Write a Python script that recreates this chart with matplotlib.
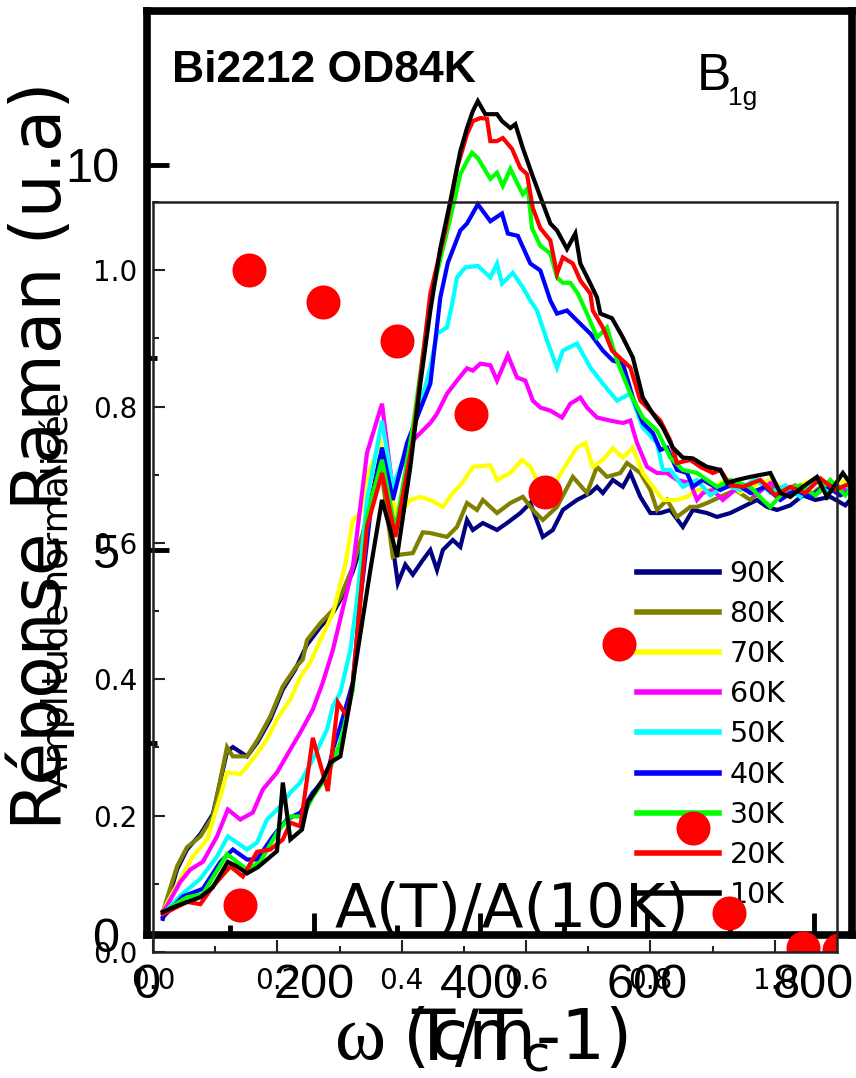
import matplotlib
matplotlib.use("Agg")
import matplotlib.pyplot as plt
from matplotlib.ticker import MultipleLocator, FixedLocator

plt.rcParams['font.family'] = ['DejaVu Sans']
plt.rcParams['mathtext.fontset'] = 'custom'
plt.rcParams['mathtext.sf'] = 'DejaVu Sans'

# Raman shift (cm-1) and response (a.u.) for each temperature
x_90K = [19, 36, 48, 64, 79, 96, 103, 120, 133, 148, 163, 178, 192, 208, 223, 232, 247, 259, 280, 301,
         310, 319, 331, 340, 348, 355, 367, 376, 384, 391, 403, 420, 432, 448, 460, 475, 487, 499, 516, 532,
         540, 547, 559, 571, 580, 592, 604, 616, 628, 643, 655, 672, 684, 700, 715, 732, 744, 756, 772, 787,
         802, 820, 838, 847]
y_90K = [0.21, 0.85, 1.11, 1.31, 1.57, 2.38, 2.44, 2.32, 2.51, 2.80, 3.19, 3.45, 3.77, 4.00, 4.18, 4.35,
         4.72, 5.13, 6.23, 4.57, 4.81, 4.68, 4.87, 5.00, 4.74, 5.00, 5.13, 5.04, 5.39, 5.26, 5.35, 5.26,
         5.35, 5.48, 5.61, 5.17, 5.26, 5.52, 5.65, 5.74, 5.82, 5.74, 5.91, 5.82, 6.00, 5.69, 5.48, 5.48,
         5.52, 5.30, 5.52, 5.48, 5.43, 5.48, 5.56, 5.65, 5.56, 5.52, 5.58, 5.71, 5.65, 5.69, 5.58, 5.69]

x_80K = [19, 36, 48, 64, 79, 96, 103, 120, 133, 148, 163, 178, 187, 192, 208, 223, 232, 247, 259, 280,
         295, 304, 319, 331, 340, 360, 372, 384, 396, 403, 420, 436, 451, 463, 475, 492, 511, 528, 540, 552,
         568, 576, 592, 604, 612, 624, 636, 652, 660, 672, 688, 706, 724, 742, 760, 778, 796, 814, 832, 847]
y_80K = [0.30, 0.89, 1.14, 1.28, 1.54, 2.44, 2.32, 2.32, 2.54, 2.84, 3.23, 3.47, 3.58, 3.83, 4.05, 4.22,
         4.39, 4.78, 5.22, 6.13, 4.91, 4.94, 4.96, 5.23, 5.22, 5.17, 5.30, 5.61, 5.52, 5.65, 5.48, 5.61,
         5.69, 5.52, 5.39, 5.56, 5.95, 5.74, 6.08, 5.95, 6.00, 6.13, 6.00, 5.78, 5.52, 5.65, 5.43, 5.56,
         5.56, 5.61, 5.69, 5.78, 5.65, 5.84, 5.75, 5.84, 5.71, 5.87, 5.75, 5.80]

x_70K = [19, 40, 55, 72, 88, 96, 112, 127, 144, 156, 172, 184, 196, 208, 223, 238, 247, 256, 264, 280,
         300, 316, 328, 340, 355, 367, 379, 391, 412, 420, 436, 450, 460, 472, 487, 504, 516, 526, 535, 547,
         559, 571, 583, 595, 607, 619, 636, 648, 660, 676, 694, 712, 730, 748, 766, 784, 802, 820, 838, 847]
y_70K = [0.31, 0.73, 1.02, 1.24, 1.80, 2.11, 2.09, 2.28, 2.54, 2.80, 3.06, 3.35, 3.54, 3.83, 4.18, 4.81,
         5.39, 5.48, 5.95, 6.39, 5.43, 5.65, 5.69, 5.65, 5.56, 5.74, 5.88, 6.08, 6.10, 5.91, 6.00, 6.17,
         6.08, 5.82, 5.82, 6.13, 6.33, 6.39, 6.08, 6.17, 6.32, 6.20, 6.33, 6.00, 5.82, 5.65, 5.65, 5.69,
         5.78, 5.78, 5.91, 5.75, 5.84, 5.91, 5.78, 5.84, 5.93, 5.78, 5.91, 5.82]

x_60K = [19, 24, 40, 52, 67, 84, 97, 112, 127, 139, 156, 172, 184, 199, 211, 223, 247, 264, 282, 295,
         316, 328, 340, 348, 360, 372, 384, 391, 400, 412, 420, 433, 444, 454, 463, 472, 484, 498, 508, 520,
         528, 540, 556, 571, 580, 588, 600, 612, 624, 636, 652, 660, 667, 679, 691, 712, 730, 748, 766, 784,
         802, 820, 838, 847]
y_60K = [0.31, 0.38, 0.69, 0.85, 0.95, 1.28, 1.63, 1.50, 1.59, 1.89, 2.11, 2.41, 2.63, 2.93, 3.28, 3.70,
         4.78, 6.26, 6.90, 5.78, 6.39, 6.52, 6.65, 6.77, 7.03, 7.20, 7.36, 7.33, 7.42, 7.40, 7.20, 7.53,
         7.24, 7.20, 6.94, 6.85, 6.81, 6.72, 6.90, 6.98, 6.85, 6.72, 6.68, 6.65, 6.68, 6.39, 6.08, 6.00,
         6.00, 5.91, 5.87, 5.65, 5.74, 5.78, 5.65, 5.84, 5.71, 5.87, 5.75, 5.82, 5.71, 5.88, 5.78, 5.84]

x_50K = [19, 40, 64, 84, 97, 120, 132, 144, 160, 172, 184, 199, 216, 223, 232, 244, 252, 264, 282, 295,
         304, 319, 340, 348, 360, 367, 372, 382, 397, 412, 420, 426, 439, 451, 460, 468, 480, 492, 499, 516,
         532, 547, 564, 580, 595, 612, 619, 628, 643, 660, 676, 694, 712, 730, 748, 766, 784, 802, 820, 838,
         847]
y_50K = [0.27, 0.51, 0.73, 1.02, 1.28, 1.11, 1.20, 1.50, 1.67, 1.85, 1.98, 2.28, 2.67, 2.97, 3.15, 3.70,
         4.35, 5.65, 6.68, 5.82, 6.08, 6.52, 7.37, 7.81, 7.89, 8.24, 8.54, 8.67, 8.69, 8.54, 8.72, 8.46,
         8.60, 8.41, 8.24, 8.11, 7.72, 7.37, 7.59, 7.68, 7.37, 7.16, 6.94, 7.03, 6.59, 6.39, 6.04, 6.04,
         5.82, 5.91, 5.71, 5.84, 5.78, 5.93, 5.74, 5.84, 5.69, 5.91, 5.75, 5.84, 5.78]

x_40K = [19, 43, 67, 88, 103, 120, 132, 151, 168, 184, 199, 216, 223, 232, 247, 256, 268, 282, 295, 312,
         340, 352, 361, 376, 384, 397, 412, 426, 433, 445, 460, 472, 484, 492, 504, 516, 532, 547, 559, 571,
         583, 595, 607, 616, 624, 636, 648, 655, 667, 688, 706, 724, 742, 760, 778, 796, 814, 832, 847]
y_40K = [0.23, 0.50, 0.60, 0.95, 1.11, 0.98, 0.98, 1.28, 1.50, 1.59, 1.85, 2.06, 2.41, 2.71, 3.28, 4.35,
         5.48, 6.33, 5.65, 6.39, 7.16, 8.28, 8.73, 9.15, 9.24, 9.49, 9.27, 9.37, 9.11, 9.08, 8.72, 8.63,
         8.24, 8.07, 8.11, 7.98, 7.81, 7.59, 7.46, 7.42, 6.98, 6.65, 6.52, 6.30, 6.33, 6.04, 6.00, 5.82,
         5.91, 5.78, 5.87, 5.74, 5.82, 5.65, 5.78, 5.69, 5.84, 5.71, 5.78]

x_30K = [19, 48, 67, 96, 120, 136, 156, 172, 187, 199, 216, 232, 247, 264, 282, 298, 319, 340, 364, 376,
         384, 390, 397, 412, 420, 427, 436, 444, 451, 457, 462, 472, 484, 492, 499, 508, 517, 528, 540, 552,
         564, 580, 595, 612, 628, 643, 660, 672, 684, 700, 724, 739, 748, 766, 784, 802, 820, 838, 847]
y_30K = [0.30, 0.49, 0.53, 1.05, 0.85, 0.95, 1.33, 1.54, 1.54, 1.80, 2.06, 2.50, 3.19, 5.43, 6.17, 5.26,
         6.59, 8.24, 9.31, 9.88, 10.05, 10.16, 10.09, 9.82, 9.90, 9.73, 9.95, 9.77, 9.62, 9.70, 9.18, 8.95,
         8.85, 8.54, 8.47, 8.47, 8.33, 8.07, 7.76, 7.89, 7.46, 7.03, 6.72, 6.55, 6.20, 6.04, 6.00, 5.91,
         5.82, 5.91, 5.82, 5.65, 5.56, 5.78, 5.84, 5.71, 5.91, 5.71, 5.84]

x_20K = [19, 48, 64, 79, 100, 115, 132, 148, 163, 172, 184, 199, 217, 229, 240, 247, 264, 282, 298, 319,
         340, 358, 372, 384, 391, 400, 408, 412, 420, 427, 438, 448, 456, 463, 472, 484, 492, 499, 511, 520,
         532, 535, 547, 558, 571, 580, 592, 604, 616, 628, 636, 652, 664, 679, 688, 700, 715, 736, 754, 772,
         790, 808, 826, 847]
y_20K = [0.27, 0.43, 0.40, 0.63, 0.89, 0.76, 1.08, 1.11, 1.24, 1.46, 1.41, 2.56, 1.87, 3.02, 2.84, 3.28,
         5.30, 6.00, 5.17, 6.42, 8.33, 9.15, 9.96, 10.40, 10.57, 10.61, 10.60, 10.31, 10.31, 10.35, 10.21,
         9.96, 9.88, 9.44, 9.18, 9.02, 8.59, 8.80, 8.72, 8.50, 8.33, 8.11, 7.89, 7.59, 7.46, 7.37, 6.94,
         6.81, 6.68, 6.42, 6.13, 6.17, 6.08, 6.00, 6.04, 5.84, 5.82, 5.91, 5.71, 5.82, 5.74, 5.93, 5.78,
         5.88]

x_10K = [19, 36, 64, 79, 97, 108, 120, 133, 144, 156, 163, 172, 186, 193, 211, 220, 232, 244, 253, 268,
         282, 292, 300, 316, 328, 340, 352, 364, 376, 384, 391, 397, 406, 420, 426, 436, 442, 451, 462, 474,
         484, 492, 504, 514, 520, 532, 540, 544, 558, 571, 583, 595, 607, 619, 631, 643, 655, 664, 672, 688,
         696, 708, 724, 748, 760, 772, 787, 804, 816, 835, 847]
y_10K = [0.30, 0.38, 0.49, 0.62, 0.95, 0.89, 0.80, 0.88, 0.98, 1.09, 1.98, 1.24, 1.37, 1.72, 2.02, 2.24,
         2.32, 3.06, 3.70, 4.74, 5.65, 5.26, 4.91, 6.08, 7.16, 8.11, 8.92, 9.53, 10.18, 10.48, 10.70, 10.83,
         10.66, 10.66, 10.57, 10.48, 10.53, 10.22, 9.88, 9.53, 9.24, 9.15, 8.91, 9.11, 8.72, 8.46, 8.28,
         8.07, 8.01, 7.76, 7.50, 6.98, 6.77, 6.59, 6.33, 6.20, 6.19, 6.13, 6.08, 6.04, 5.87, 5.91, 5.95,
         6.00, 5.74, 5.69, 5.82, 5.95, 5.69, 6.00, 5.82]

temperatures = ['90K', '80K', '70K', '60K', '50K', '40K', '30K', '20K', '10K']
line_colors = ['#000080', '#808000', '#ffff00', '#ff00ff', '#00ffff', '#0000ff', '#00ff00', '#ff0000', '#000000']
spectra = [(x_90K, y_90K), (x_80K, y_80K), (x_70K, y_70K), (x_60K, y_60K), (x_50K, y_50K),
           (x_40K, y_40K), (x_30K, y_30K), (x_20K, y_20K), (x_10K, y_10K)]

# Normalised amplitude A(T)/A(10K) against reduced temperature
t_reduced = [0.140, 0.154, 0.273, 0.392, 0.511, 0.630, 0.749, 0.868, 0.927, 1.045, 1.104]
amplitude = [0.069, 1.000, 0.953, 0.896, 0.789, 0.674, 0.452, 0.182, 0.057, 0.006, 0.003]

W, H = 856, 1078


def fx(px):
    return px / W


def fy(py):
    return 1 - py / H


fig = plt.figure(figsize=(W / 100, H / 100), dpi=100)

# ---- main spectra axes ----
ax = fig.add_axes([fx(147), fy(935), fx(852) - fx(147), fy(11) - fy(935)])
for (xs, ys), lab, col in zip(spectra, temperatures, line_colors):
    ax.plot(xs, ys, color=col, lw=3, label=lab, solid_joinstyle='miter')
ax.set_xlim(0, 846)
ax.set_ylim(0, 12)
ax.xaxis.set_major_locator(FixedLocator([0, 200, 400, 600, 800]))
ax.xaxis.set_minor_locator(FixedLocator([100, 300, 500, 700]))
ax.yaxis.set_major_locator(FixedLocator([0, 5, 10]))
ax.yaxis.set_minor_locator(FixedLocator([2.5, 7.5]))
ax.tick_params(which='both', direction='in', top=False, right=False, width=3.5)
ax.tick_params(which='major', length=16, labelsize=35, pad=20)
ax.tick_params(which='minor', length=7)
for lbl in ax.get_xticklabels() + ax.get_yticklabels():
    lbl.set_fontfamily('Liberation Sans')
for sp in ax.spines.values():
    sp.set_linewidth(5.5)

leg = ax.legend(loc='upper left', bbox_to_anchor=(fx(637), fy(560)), bbox_transform=fig.transFigure,
                frameon=False, fontsize=20.5, handlelength=2.87, handletextpad=0.38,
                labelspacing=0.425, borderpad=0, borderaxespad=0)
for h in leg.get_lines():
    h.set_linewidth(4)

fig.text(fx(172), fy(82), 'Bi2212 OD84K', fontsize=32, fontweight='bold',
         family='Liberation Sans', ha='left', va='baseline')
fig.text(fx(697), fy(90), 'B', fontsize=37, family='Liberation Sans', ha='left', va='baseline')
fig.text(fx(728), fy(105), '1g', fontsize=19, family='Liberation Sans', ha='left', va='baseline')

fig.text(fx(40), fy(456), 'Réponse Raman (u.a)', fontsize=50, rotation=90, ha='center', va='center')
fig.text(fx(361), fy(1059), 'ω', fontsize=56, family='Liberation Serif', ha='center', va='baseline')
fig.text(fx(403), fy(1059), '(cm-1)', fontsize=50, ha='left', va='baseline')

# ---- inset: normalised amplitude ----
axi = fig.add_axes([fx(153), fy(952), fx(837) - fx(153), fy(202) - fy(952)])
axi.patch.set_alpha(0)
axi.plot(t_reduced, amplitude, 'o', color='#ff0000', markersize=24.5, markeredgewidth=0)
axi.set_xlim(0, 1.1)
axi.set_ylim(0, 1.1)
axi.xaxis.set_major_locator(MultipleLocator(0.2))
axi.xaxis.set_minor_locator(MultipleLocator(0.1))
axi.yaxis.set_major_locator(MultipleLocator(0.2))
axi.yaxis.set_minor_locator(MultipleLocator(0.1))
axi.tick_params(which='both', direction='in', top=False, right=False, width=1.5, color='#222222')
axi.tick_params(which='major', length=8.5, labelsize=20, pad=11)
axi.tick_params(which='minor', length=4.5)
for sp in axi.spines.values():
    sp.set_linewidth(1.8)
    sp.set_color('#222222')

fig.text(fx(57), fy(590), 'Amplitude normalisée', fontsize=26, rotation=90, ha='center', va='center')
fig.text(fx(480), fy(1060), r'T/T$_{\mathsf{c}}$', fontsize=51, ha='center', va='baseline')
fig.text(fx(512), fy(927), 'A(T)/A(10K)', fontsize=44, ha='center', va='baseline')

fig.savefig('out.png', dpi=100)
